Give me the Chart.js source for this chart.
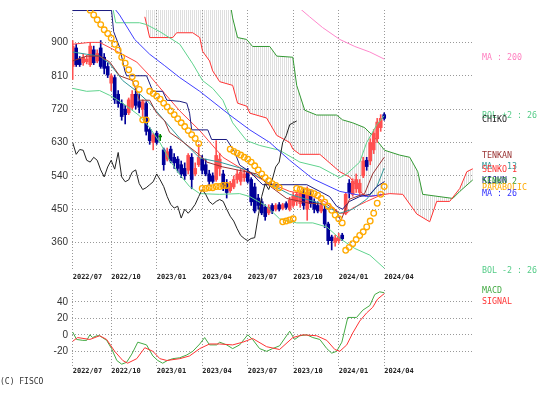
<!DOCTYPE html>
<html>
<head>
<meta charset="utf-8">
<script src="https://cdn.jsdelivr.net/npm/chart.js@4.4.0/dist/chart.umd.min.js"></script>
<style>
body { margin: 0; background: #fff; width: 551px; height: 395px; overflow: hidden; position: relative; }
canvas { position: absolute; left: 0; }
#price { top: 0; }
#macd { top: 280px; }
.lbl { position: absolute; left: 482px; font: 8.3px "DejaVu Sans Mono", monospace; line-height: 10px; white-space: pre; }
#copy { position: absolute; left: 0; top: 377px; font: 8px "DejaVu Sans Mono", monospace; line-height: 10px; color: #333; }
</style>
</head>
<body>
<canvas id="price" width="551" height="285"></canvas>
<canvas id="macd" width="551" height="100"></canvas>
<div class="lbl" style="top:52px;color:#ff80c0">MA : 200</div>
<div class="lbl" style="top:110px;color:#55cc88">BOL +2 : 26</div>
<div class="lbl" style="top:114px;color:#222">CHIKO</div>
<div class="lbl" style="top:150px;color:#993333">TENKAN</div>
<div class="lbl" style="top:161px;color:#339999">MA : 13</div>
<div class="lbl" style="top:164px;color:#ff3333">SENKO 1</div>
<div class="lbl" style="top:175px;color:#1a1a80">KIJUN</div>
<div class="lbl" style="top:176px;color:#339933">SENKO 2</div>
<div class="lbl" style="top:182px;color:#ffaa00">PARABOLIC</div>
<div class="lbl" style="top:188px;color:#3333ff">MA : 26</div>
<div class="lbl" style="top:265px;color:#55cc88">BOL -2 : 26</div>
<div class="lbl" style="top:285px;color:#44aa44">MACD</div>
<div class="lbl" style="top:296px;color:#ff3333">SIGNAL</div>
<div id="copy">(C) FISCO</div>
<script>
// weekly candles, week 0 = mid July 2022
const candleOpen = [835,885,855,845,848,840,880,850,885,860, 835,790,805,760,735,720,710,725,760,740,
  720,735,665,630,655,645,610,585,612,590, 585,570,560,555,590,545,570,585,570,545,
  540,530,560,545,520,500,510,530,525,535, 550,530,510,480,470,455,440,460,450,462,
  452,465,450,460,470,465,495,450,490,470, 460,445,450,410,375,360,365,380,440,520,
  490,505,495,540,582,580,610,640,670,705];
const candleClose = [890,840,840,860,855,890,845,870,835,830, 812,810,745,735,700,705,745,760,730,725,
  740,660,635,650,630,645,570,605,580,575, 560,545,540,595,530,560,590,555,545,525,
  525,595,585,510,495,520,530,545,550,545, 525,470,445,460,440,430,455,445,460,450,
  462,455,475,485,490,492,460,495,465,450, 445,460,410,365,365,372,375,370,490,495,
  525,530,520,580,565,630,655,685,695,695];
const candleHigh = [905,895,862,868,865,900,890,880,905,870, 845,815,812,770,745,730,750,770,775,760,
  745,740,670,655,660,652,615,615,620,600, 592,580,575,600,600,575,625,595,585,555,
  548,635,600,555,530,525,540,555,560,555, 560,535,520,490,478,462,462,465,465,468,
  466,470,482,495,495,500,505,510,500,478, 470,470,458,415,380,380,385,385,495,530,
  532,545,530,590,590,640,665,695,705,710];
const candleLow = [800,835,835,838,842,835,840,845,830,815, 805,770,735,725,690,680,705,720,720,710,
  700,650,625,610,625,635,555,580,575,560, 550,535,530,545,505,540,565,545,540,515,
  520,525,540,500,480,495,505,520,515,525, 520,460,440,450,435,420,435,438,445,445,
  448,450,445,455,460,455,450,420,455,440, 440,440,400,355,340,350,358,365,435,480,
  485,495,485,535,555,570,600,630,660,690];

const quarterWeeks = [0, 11, 24, 37, 50, 63, 76, 89];
const quarterLabels = ['2022/07','2022/10','2023/01','2023/04','2023/07','2023/10','2024/01','2024/04'];
const priceTicks = [360, 450, 540, 630, 720, 810, 900];
const macdTicks = [-20, 0, 20, 40];

const ma200Weeks = [65.1, 67.7, 71.4, 76.3, 80.6, 84.9, 89];
const ma200Values = [990, 969, 940, 908, 889, 874, 855];
const ma26Weeks = [11.4, 13.4, 17.7, 22, 26.3, 30.6, 36.3, 44.9, 50.6, 56.3, 62, 68.6, 76.3, 84, 89];
const ma26Values = [998, 974, 908, 868, 837, 805, 768, 704, 664, 630, 582, 532, 498, 484, 490];
const ma13Weeks = [0, 4, 7.7, 10.6, 14.3, 18.3, 22, 26.3, 30.6, 36.3, 42, 49.7, 56.3, 62, 70.6, 76.3, 80, 84, 86.9, 89];
const ma13Values = [874, 868, 863, 842, 797, 768, 736, 688, 641, 588, 577, 556, 519, 490, 466, 439, 450, 477, 511, 561];
const bolUpWeeks = [11.4, 12.3, 19.1, 21.1, 24.9, 30.6, 34.3, 37.1, 40, 42.9, 45.7, 49.7, 53.4, 59.1, 64.9, 70.6, 76.3, 78.3, 82, 84, 86.9, 89];
const bolUpValues = [995, 953, 953, 948, 929, 895, 842, 797, 776, 744, 683, 635, 622, 609, 577, 564, 535, 545, 577, 630, 678, 702];
const bolMidWeeks = [0, 4.9, 7.7, 11.4, 18.3, 22, 26.3, 30.6, 36.3, 42.9, 49.7, 55.4, 62, 66.9, 70.6, 73.4, 76.3, 78.3, 80, 84, 89];
const bolMidValues = [895, 900, 900, 882, 847, 810, 762, 715, 662, 590, 551, 524, 498, 490, 477, 463, 439, 439, 453, 471, 492];
const bolLowWeeks = [0, 4, 7.7, 10.6, 14.3, 19.1, 22, 24.9, 27.7, 30.6, 33.4, 36.3, 42, 47.7, 50.6, 55.4, 59.1, 64, 68.6, 72.6, 76.3, 80.6, 84.9, 89];
const bolLowValues = [776, 768, 770, 757, 736, 702, 670, 630, 582, 543, 511, 492, 490, 492, 484, 458, 424, 413, 413, 402, 371, 344, 326, 291];
const tenkanWeeks = [0, 4, 7.7, 10.6, 13.4, 17.1, 19.1, 22, 24, 26.3, 27.7, 30.6, 36.3, 38.3, 42.9, 52.6, 55.4, 61.1, 67.7, 72.6, 75.4, 76.6, 77.7, 79.1, 83.4, 85.7, 89];
const tenkanValues = [850, 863, 863, 847, 810, 797, 744, 744, 709, 688, 657, 638, 596, 577, 564, 545, 519, 479, 466, 463, 445, 418, 445, 477, 492, 545, 590];
const kijunWeeks = [0, 11.1, 11.7, 13.4, 14.9, 15.4, 21.1, 22.9, 25.7, 26.9, 30.6, 32.6, 33.4, 34, 38.6, 39.7, 44, 46.3, 47.7, 50.6, 53.4, 54.3, 66.9, 70.6, 73.4, 75.4, 77.1, 79.1, 82, 84.9, 86.9, 89];
const kijunValues = [986, 986, 929, 887, 823, 810, 810, 768, 768, 744, 741, 736, 709, 664, 664, 638, 638, 604, 569, 551, 524, 516, 516, 498, 484, 458, 450, 471, 484, 490, 511, 524];
const senko1Weeks = [20.6, 22, 28.6, 29.7, 34.3, 36.3, 37.1, 39.1, 40, 42, 45.7, 47.1, 49.7, 50.6, 55.4, 58.3, 62, 62.9, 64.9, 70.6, 76.3, 79.1, 82.9, 84.9, 90.6, 94.3, 98.3, 102, 104, 107.7, 110.6, 112.6, 114.3];
const senko1Values = [969, 913, 913, 926, 926, 913, 876, 850, 823, 794, 784, 736, 728, 709, 696, 649, 630, 612, 598, 598, 551, 537, 490, 484, 492, 490, 437, 416, 471, 471, 506, 551, 559];
const senko2Weeks = [20.6, 44.6, 45.1, 45.7, 47.1, 49.7, 51.4, 56.3, 58.3, 62.9, 64, 66.3, 69.7, 75.4, 77.1, 80, 83.4, 86.3, 89.1, 93.4, 96.3, 98.6, 100, 108.6, 110.6, 114.3];
const senko2Values = [1040, 1040, 1000, 966, 913, 908, 889, 889, 863, 860, 784, 717, 704, 704, 691, 683, 670, 643, 609, 596, 590, 551, 490, 479, 498, 529];
// chiko: one value per week, starting at week 0
const chikoValues = [630,598,611,609,582,577,590,582,556,537, 564,582,558,603,537,524,529,550,556,519,
  503,508,516,524,545,529,511,484,463,453, 458,426,450,439,450,463,484,503,490,471,
  463,471,476,471,450,431,418,397,379,371, 365,371,373,431,484,519,503,529,564,577,
  630,648,678,683,688];
// parabolic SAR, one value per week from sarFirstWeek
const sarFirstWeek = 5;
const sarValues = [987,974,961,948,934,924,911,895,879,860,844,826,807,789,773,
  691,691,
  768,762,755,747,736,726,715,705,694,683,673,662,651,641,627,
  506,506,508,508,511,511,514,514,
  612,606,601,596,590,585,577,567,556,545,535,527,519,514,508,
  416,418,421,424,
  506,503,500,498,495,492,487,479,469,458,447,434,424,413,
  339,347,357,368,379,389,402,418,439,466,490,511];

const macdWeeks = [0,1.1,2.9,4,4.9,5.7,6.9,7.7,9.7,11.1,12.6,14,15.4,16.9,18.6,21.1,22.9,24.3,25.7,27.1,
  28.6,30.6,32.6,34.3,36.3,37.7,39.1,41.1,42,44,45.7,47.7,50,51.4,53.4,55.4,57.1,59.1,62,63.4,
  64.9,66.9,68.6,70.6,72.6,74,75.4,76.9,78.6,81.1,82.9,84.9,86.3,87.7,89];
const macdValues = [3.3,-5.6,-6.7,-6.7,0,-3.3,-1.1,-1.1,-6.7,-16.7,-31.1,-35.6,-33.3,-23.3,-8.9,-12.2,-25.6,-31.1,-34.4,-31.1,
  -28.9,-27.8,-24.4,-20,-11.1,-3.3,-12.2,-12.2,-8.9,-12.2,-16.7,-12.2,0,-5.6,-16.7,-20,-16.7,-13.3,4.4,-5.6,
  -1.1,0,-3.3,-5.6,-16.7,-22.2,-20,-8.9,21.1,21.1,30,35.6,48.9,52.2,51.1];
const signalWeeks = [0,1.4,4.9,7.7,9.7,12,14.3,15.7,18.3,20.6,22.9,24.9,26.9,30.6,33.4,36.3,39.1,42,45.7,48.6,
  51.4,55.4,59.1,62.9,65.7,69.7,72.6,74.9,76.3,78.3,80,82,84,85.7,87.1,89];
const signalValues = [-7.8,-3.3,-5.6,-1.1,-5.6,-20,-31.1,-34.4,-28.9,-15.6,-20,-28.9,-31.1,-28.9,-25.6,-16.7,-11.1,-11.1,-12.2,-8.9,
  -4.4,-14.4,-17.8,-3.3,0,-1.1,-6.7,-17.8,-20,-12.2,2.2,16.7,26.7,33.3,43.3,50];

function pts(ws, vs) { return ws.map((w, i) => ({ x: w, y: vs[i] })); }
function line(data, color) {
  return { type: 'line', data: data, borderColor: color, borderWidth: 1, pointRadius: 0, tension: 0, fill: false };
}

const idx = candleOpen.map((_, i) => i);
const candleColor = idx.map(i => candleClose[i] > candleOpen[i] ? '#ff5050' : (candleClose[i] < candleOpen[i] ? '#000099' : '#008800'));

// light vertical hatching for the cloud
const hatchCanvas = document.createElement('canvas');
hatchCanvas.width = 2; hatchCanvas.height = 1;
const hc = hatchCanvas.getContext('2d');
hc.fillStyle = 'rgba(150,150,150,0.3)';
hc.fillRect(0, 0, 1, 1);
const hatch = hc.createPattern(hatchCanvas, 'repeat');

function xScale(h, pad) {
  return {
    type: 'linear', min: -0.2, max: 114.37, offset: false,
    grid: { color: '#999', drawTicks: false, offset: false },
    border: { display: false, dash: [1, 2] },
    afterBuildTicks: s => { s.ticks = quarterWeeks.map(v => ({ value: v })); },
    afterFit: s => { s.height = h; },
    ticks: {
      align: 'start', padding: pad, maxRotation: 0, autoSkip: false, color: '#222',
      font: { family: 'DejaVu Sans Mono', size: 7, weight: 'bold' },
      callback: v => quarterLabels[quarterWeeks.indexOf(v)]
    }
  };
}
function yScale(min, max, tickList) {
  return {
    min: min, max: max,
    grid: { color: '#999', drawTicks: false },
    border: { display: false, dash: [1, 2] },
    afterBuildTicks: s => { s.ticks = tickList.map(v => ({ value: v })); },
    afterFit: s => { s.width = 72; },
    ticks: { padding: 4, color: '#333', font: { family: 'Liberation Sans', size: 10 } }
  };
}

const sar = sarValues.map((v, k) => ({ x: sarFirstWeek + k, y: v }));
const chiko = chikoValues.map((v, k) => ({ x: k, y: v }));

new Chart(document.getElementById('price'), {
  type: 'line',
  data: {
    datasets: [
      { type: 'line', data: sar, showLine: false, pointRadius: 2.8, pointBorderWidth: 1.3,
        pointBorderColor: '#ffaa00', pointBackgroundColor: 'rgba(0,0,0,0)' },
      line(chiko, '#222'),
      line(pts(tenkanWeeks, tenkanValues), '#993333'),
      line(pts(kijunWeeks, kijunValues), '#1a1a80'),
      line(pts(ma13Weeks, ma13Values), '#339999'),
      line(pts(bolMidWeeks, bolMidValues), '#ff4444'),
      line(pts(ma26Weeks, ma26Values), '#4040ff'),
      line(pts(ma200Weeks, ma200Values), '#ff88cc'),
      line(pts(bolUpWeeks, bolUpValues), '#5fd38d'),
      line(pts(bolLowWeeks, bolLowValues), '#5fd38d'),
      { type: 'bar', data: idx.map(i => ({ x: i, y: [Math.min(candleOpen[i], candleClose[i]), Math.max(candleOpen[i], candleClose[i])] })),
        backgroundColor: candleColor, barThickness: 3, minBarLength: 1, grouped: false, borderWidth: 0 },
      { type: 'bar', data: idx.map(i => ({ x: i, y: [candleLow[i], candleHigh[i]] })),
        backgroundColor: candleColor, barThickness: 1, grouped: false, borderWidth: 0 },
      line(pts(senko1Weeks, senko1Values), '#ff3333'),
      Object.assign(line(pts(senko2Weeks, senko2Values), '#339933'), { fill: 12, backgroundColor: hatch })
    ]
  },
  options: {
    responsive: false, animation: false, events: [],
    layout: { padding: { left: 0, right: 78, top: 5, bottom: 0 } },
    plugins: { legend: { display: false }, tooltip: { enabled: false } },
    scales: { x: xScale(15, 3), y: yScale(285.9, 987.4, priceTicks) }
  }
});

new Chart(document.getElementById('macd'), {
  type: 'line',
  data: {
    datasets: [
      line(pts(signalWeeks, signalValues), '#ff3333'),
      line(pts(macdWeeks, macdValues), '#44aa44')
    ]
  },
  options: {
    responsive: false, animation: false, events: [],
    layout: { padding: { left: 0, right: 78, top: 3, bottom: 0 } },
    plugins: { legend: { display: false }, tooltip: { enabled: false } },
    scales: { x: xScale(14, 1), y: yScale(-37.8, 54.4, macdTicks) }
  }
});
</script>
</body>
</html>
